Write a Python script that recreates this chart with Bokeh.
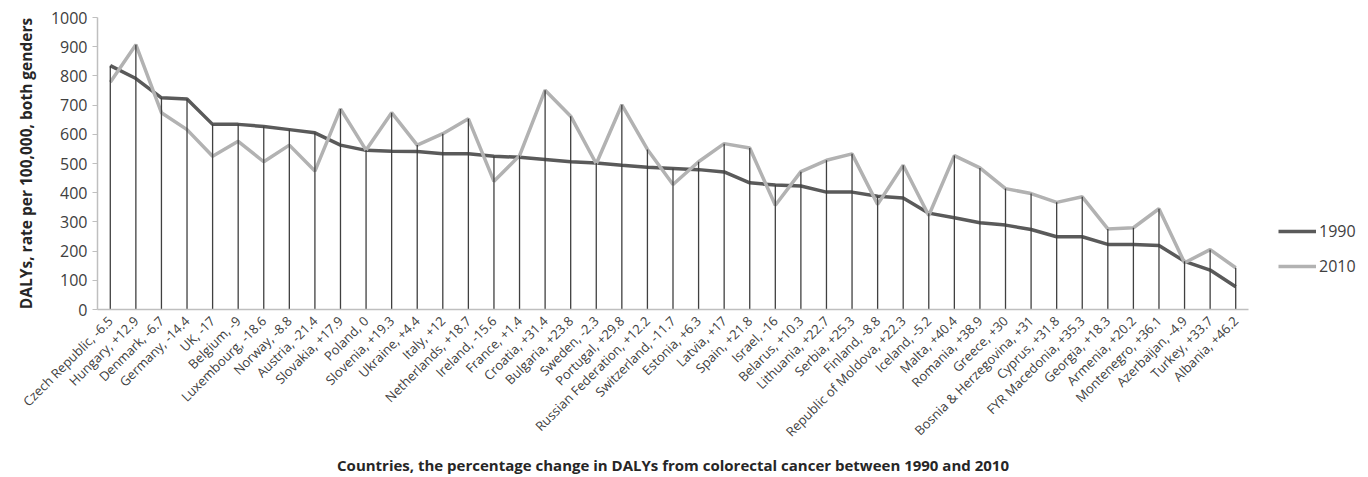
from bokeh.plotting import figure
from bokeh.models import FactorRange, Range1d, Legend, LegendItem, FixedTicker, ColumnDataSource
from bokeh.embed import file_html
from bokeh.resources import INLINE
import math

countries = ["Czech Republic", "Hungary", "Denmark", "Germany", "UK", "Belgium", "Luxembourg",
             "Norway", "Austria", "Slovakia", "Poland", "Slovenia", "Ukraine", "Italy", "Netherlands",
             "Ireland", "France", "Croatia", "Bulgaria", "Sweden", "Portugal", "Russian Federation",
             "Switzerland", "Estonia", "Latvia", "Spain", "Israel", "Belarus", "Lithuania", "Serbia",
             "Finland", "Republic of Moldova", "Iceland", "Malta", "Romania", "Greece",
             "Bosnia & Herzegovina", "Cyprus", "FYR Macedonia", "Georgia", "Armenia", "Montenegro",
             "Azerbaijan", "Turkey", "Albania"]
changes = ["-6.5", "+12.9", "-6.7", "-14.4", "-17", "-9", "-18.6", "-8.8", "-21.4", "+17.9", "0",
           "+19.3", "+4.4", "+12", "+18.7", "-15.6", "+1.4", "+31.4", "+23.8", "-2.3", "+29.8",
           "+12.2", "-11.7", "+6.3", "+17", "+21.8", "-16", "+10.3", "+22.7", "+25.3", "-8.8",
           "+22.3", "-5.2", "+40.4", "+38.9", "+30", "+31", "+31.8", "+35.3", "+18.3", "+20.2",
           "+36.1", "-4.9", "+33.7", "+46.2"]
dalys_1990 = [835, 791, 725, 721, 634, 634, 627, 616, 605, 563, 545, 542, 541, 533, 533,
              525, 521, 514, 506, 502, 494, 487, 483, 479, 471, 434, 426, 423, 402, 402,
              388, 382, 330, 314, 297, 289, 274, 249, 249, 223, 223, 219, 165, 135, 78]
dalys_2010 = [778, 907, 674, 616, 525, 576, 506, 563, 474, 687, 546, 674, 563, 602, 653,
              439, 527, 751, 662, 499, 701, 548, 428, 506, 568, 553, 357, 472, 511, 533,
              360, 494, 322, 527, 485, 414, 397, 367, 386, 276, 280, 345, 160, 205, 143]
y_ticks = [0, 100, 200, 300, 400, 500, 600, 700, 800, 900, 1000]

labels = [f"{c}, {ch}" for c, ch in zip(countries, changes)]
tops = [max(a, b) for a, b in zip(dalys_1990, dalys_2010)]
src = ColumnDataSource(dict(x=labels, y1990=dalys_1990, y2010=dalys_2010, top=tops,
                            zero=[0] * len(labels)))

FONT = "Open Sans"
TXT = "#404040"

p = figure(frame_width=1151, frame_height=292,
           x_range=FactorRange(factors=labels, range_padding=0),
           y_range=Range1d(0, 1000), output_backend="svg", toolbar_location=None,
           min_border_left=97, min_border_right=104, min_border_top=17, min_border_bottom=0)
p.outline_line_color = None
p.xgrid.visible = False
p.ygrid.visible = False

l1 = p.line("x", "y1990", source=src, line_color="#5a5a5a", line_width=3.5)
l2 = p.line("x", "y2010", source=src, line_color="#b2b2b2", line_width=3.5)
p.segment(x0="x", y0="zero", x1="x", y1="top", source=src, line_color="#404040", line_width=1.3)

p.yaxis.ticker = FixedTicker(ticks=y_ticks)
p.yaxis.axis_line_color = "#bfbfbf"
p.yaxis.axis_line_width = 1.5
p.yaxis.major_tick_line_color = "#bfbfbf"
p.yaxis.major_tick_out = 5
p.yaxis.major_tick_in = 0
p.yaxis.minor_tick_line_color = None
p.yaxis.major_label_text_font = FONT
p.yaxis.major_label_text_font_size = "16px"
p.yaxis.major_label_text_color = TXT
p.yaxis.major_label_standoff = 5
p.yaxis.axis_label = "DALYs, rate per 100,000, both genders"
p.yaxis.axis_label_text_font = FONT
p.yaxis.axis_label_text_font_size = "15.5px"
p.yaxis.axis_label_text_font_style = "bold"
p.yaxis.axis_label_text_color = "#262626"
p.yaxis.axis_label_standoff = 11

p.xaxis.axis_line_color = "#bfbfbf"
p.xaxis.axis_line_width = 1.5
p.xaxis.major_tick_line_color = None
p.xaxis.minor_tick_line_color = None
p.xaxis.major_label_orientation = math.pi / 4
p.xaxis.major_label_text_font = FONT
p.xaxis.major_label_text_font_size = "13px"
p.xaxis.major_label_text_color = TXT
p.xaxis.major_label_standoff = 3
p.xaxis.axis_label = "Countries, the percentage change in DALYs from colorectal cancer between 1990 and 2010"
p.xaxis.axis_label_text_font = FONT
p.xaxis.axis_label_text_font_size = "15px"
p.xaxis.axis_label_text_font_style = "bold"
p.xaxis.axis_label_text_color = "#262626"
p.xaxis.axis_label_standoff = 5

legend = Legend(items=[LegendItem(label="1990", renderers=[l1]),
                       LegendItem(label="2010", renderers=[l2])],
                location=(30, 32), margin=0, padding=0, border_line_color=None,
                background_fill_alpha=0, glyph_width=38, glyph_height=20, label_height=20,
                spacing=13, label_standoff=3, label_text_font=FONT,
                label_text_font_size="16px", label_text_color=TXT)
p.add_layout(legend, "right")

open("out.html", "w").write(file_html(p, INLINE))
